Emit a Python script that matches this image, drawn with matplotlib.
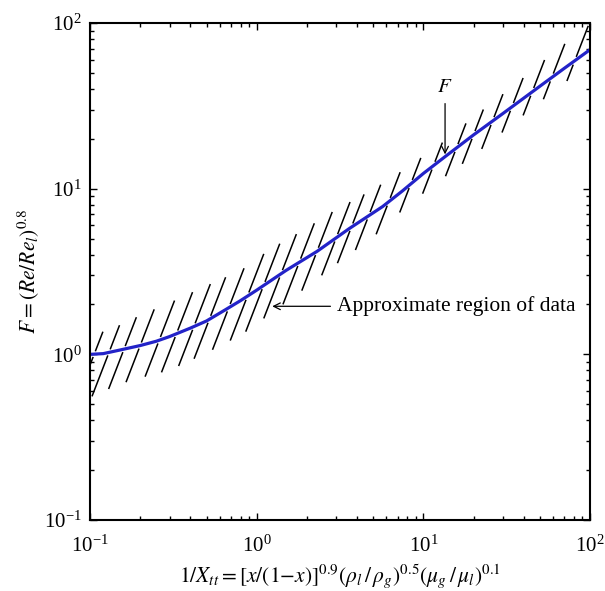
"""Chen boiling F-factor against the inverse Martinelli parameter, with the hatched data band."""
import numpy as np
import matplotlib

matplotlib.use("Agg")
import matplotlib.pyplot as plt

plt.rcParams["font.family"] = "serif"
plt.rcParams["font.serif"] = ["Liberation Serif", "DejaVu Serif"]
plt.rcParams["mathtext.fontset"] = "stix"
plt.rcParams["axes.unicode_minus"] = False

# F curve
x_curve = [0.1, 0.12, 0.15, 0.2, 0.25, 0.3, 0.4, 0.5, 0.65, 0.8, 1.0, 1.5, 2.3,
           3.6, 5.7, 7.5, 10, 13.5, 20, 30, 50, 70, 100]
f_curve = [1.0, 1.01, 1.06, 1.13, 1.20, 1.28, 1.44, 1.59, 1.86, 2.11, 2.44, 3.21, 4.18,
           5.75, 7.8, 9.7, 12.35, 15.6, 21.1, 28.4, 41.5, 53.2, 69]

# upper / lower edge of the "approximate region of data" band
x_band = [0.1, 0.15, 0.2, 0.3, 0.5, 0.8, 1.2, 2, 3, 5, 8, 13, 20, 35, 60, 100]
f_upper = [1.28, 1.5, 1.72, 2.05, 2.6, 3.2, 4.3, 5.8, 7.5, 9.9, 13.4, 19, 27, 42, 66, 98]
f_lower = [0.55, 0.66, 0.72, 0.8, 1.02, 1.3, 1.75, 2.55, 3.5, 5.1, 7.9, 11.5, 15.8, 25, 38.5, 57]

# where each hatch stroke crosses the curve
x_hatch = [0.106, 0.13, 0.16, 0.2, 0.26, 0.33, 0.42, 0.52, 0.68, 0.88, 1.1, 1.4, 1.8,
           2.3, 3.0, 3.7, 4.7, 6.2, 8.4, 11.5, 15.8, 20, 26, 34, 45, 59, 81]

SLOPE = 2.6   # stroke steepness, decades of F per decade of x
GAP = 0.016   # clearance left around the curve, in decades

lu_c, lv_c = np.log10(x_curve), np.log10(f_curve)
lu_b = np.log10(x_band)
lv_up, lv_lo = np.log10(f_upper), np.log10(f_lower)


def stroke(u0, sign):
    """Part of one slanted stroke on one side of the curve, in log units."""
    v0 = np.interp(u0, lu_c, lv_c)
    t = sign * np.linspace(0.0, 0.4, 800)
    u = u0 + t
    v = v0 + SLOPE * t
    d = v - np.interp(u, lu_c, lv_c)
    if sign > 0:
        keep = (d > GAP) & (v < np.interp(u, lu_b, lv_up))
    else:
        keep = (d < -GAP) & (v > np.interp(u, lu_b, lv_lo))
    return 10 ** u[keep], 10 ** v[keep]


fig = plt.figure(figsize=(6.05, 5.91), dpi=100)
ax = fig.add_axes([0.1488, 0.1201, 0.8264, 0.8410])

for xh in x_hatch:
    for side in (1, -1):
        sx, sy = stroke(np.log10(xh), side)
        if len(sx):
            ax.plot(sx, sy, color="k", lw=1.1, solid_capstyle="butt")

ax.plot(x_curve, f_curve, color="#2323c8", lw=2.3)

ax.set_xscale("log")
ax.set_yscale("log")
ax.set_xlim(0.1, 100)
ax.set_ylim(0.1, 100)

ax.annotate("Approximate region of data", xy=(1.24, 1.95), xytext=(3.05, 1.95),
            ha="left", va="center", fontsize=15.5,
            arrowprops=dict(arrowstyle="->", color="k", lw=0.9,
                            shrinkA=3, shrinkB=0, mutation_scale=12))
ax.annotate("$F$", xy=(13.5, 16.1), xytext=(13.5, 41),
            ha="center", va="center", fontsize=15,
            arrowprops=dict(arrowstyle="->", color="k", lw=0.9,
                            shrinkA=3, shrinkB=0, mutation_scale=12))

ax.set_xlabel(r"$1/X_{tt} = [x/(1\mathrm{-}x)]^{0.9}(\rho_l\,/\,\rho_g)^{0.5}"
              r"(\mu_g\,/\,\mu_l)^{0.1}$", fontsize=15.5, labelpad=4)
ax.set_ylabel(r"$F = (Re/Re_l)^{0.8}$", fontsize=15.5, labelpad=2)

for side in ax.spines.values():
    side.set_linewidth(1.5)
ax.tick_params(which="both", direction="in", top=True, right=True, labelsize=15)
ax.tick_params(which="major", length=5, width=1.0)
ax.tick_params(which="minor", length=3, width=1.0)
ax.tick_params(axis="x", pad=11)
ax.tick_params(axis="y", pad=6)

fig.savefig("out.png", dpi=100)
plt.close(fig)
